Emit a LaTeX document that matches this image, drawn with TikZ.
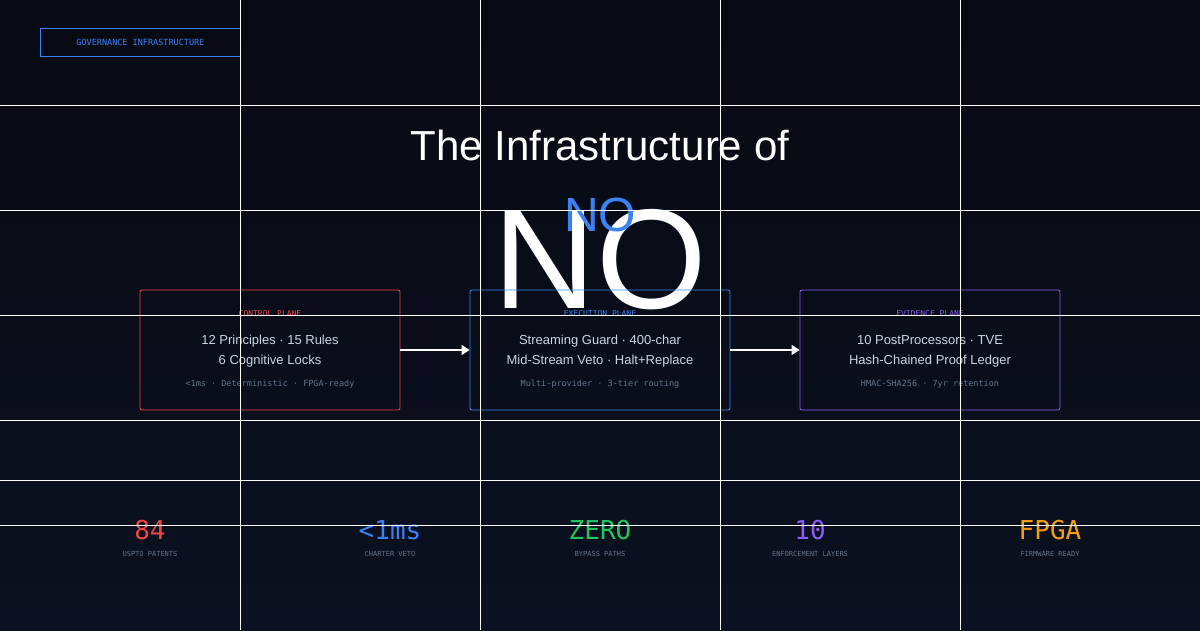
\documentclass[tikz,border=0pt]{standalone}
\usepackage{fontspec}
\setmainfont{Liberation Sans}
\setmonofont{DejaVu Sans Mono}
\usetikzlibrary{arrows.meta}
\definecolor{bgA}{HTML}{070A12}
\definecolor{bgB}{HTML}{0B1120}
\definecolor{cred}{HTML}{EF4444}
\definecolor{cblue}{HTML}{3B82F6}
\definecolor{cpurp}{HTML}{8B5CF6}
\definecolor{cgreen}{HTML}{22C55E}
\definecolor{corange}{HTML}{F59E0B}
\definecolor{txt}{HTML}{CBD5E1}
\definecolor{dim}{HTML}{64748B}
\begin{document}
\begin{tikzpicture}[x=1pt,y=-1pt,
  plane/.style={draw=#1,rounded corners=2pt,line width=0.8pt,minimum width=260pt,minimum height=120pt},
  ptitle/.style={text=#1,font=\ttfamily\fontsize{8}{10}\selectfont},
  pmain/.style={text=txt,font=\fontsize{13}{20}\selectfont,align=center},
  psub/.style={text=dim,font=\ttfamily\fontsize{8.5}{10}\selectfont},
  stat/.style={text=#1,font=\ttfamily\fontsize{26}{28}\selectfont},
  slab/.style={text=dim,font=\ttfamily\fontsize{7}{8}\selectfont},
  grid/.style={draw=white,line width=0.8pt},
  flow/.style={draw=white,line width=1.5pt,-{Triangle[length=8pt,width=10pt]}}]
\shade[top color=bgA,bottom color=bgB] (0,0) rectangle (1200,630);
\useasboundingbox (0,0) rectangle (1200,630);
% tag
\node[draw=cblue,line width=0.8pt,minimum width=200pt,minimum height=28pt,anchor=north west,text=cblue,font=\ttfamily\fontsize{8.5}{10}\selectfont] (tag) at (40,28) {GOVERNANCE INFRASTRUCTURE};
% title
\node[text=white,font=\fontsize{42}{46}\selectfont] (title) at (600,145) {The Infrastructure of};
\node[text=white,font=\fontsize{142}{146}\selectfont] (bigno) at (600,260) {NO};
\node[text=cblue,font=\fontsize{48}{50}\selectfont] (smallno) at (600,215) {NO};
% planes
\node[plane=cred] (cp) at (270,350) {};
\node[plane=cblue] (ep) at (600,350) {};
\node[plane=cpurp] (vp) at (930,350) {};
\foreach \n/\x/\c/\t/\m/\s in {cp/270/cred/CONTROL PLANE/{12 Principles · 15 Rules\\6 Cognitive Locks}/{<1ms · Deterministic · FPGA-ready},
  ep/600/cblue/EXECUTION PLANE/{Streaming Guard · 400-char\\Mid-Stream Veto · Halt+Replace}/{Multi-provider · 3-tier routing},
  vp/930/cpurp/EVIDENCE PLANE/{10 PostProcessors · TVE\\Hash-Chained Proof Ledger}/{HMAC-SHA256 · 7yr retention}}{
  \node[ptitle=\c] (\n t) at (\x,314) {\t};
  \node[pmain] (\n m) at (\x,351) {\m};
  \node[psub] (\n s) at (\x,384) {\s};
}
\draw[flow] (cp.east) -- (ep.west);
\draw[flow] (ep.east) -- (vp.west);
% stats
\foreach \i/\x/\c/\v/\l in {a/150/cred/84/USPTO PATENTS,b/390/cblue/<1ms/CHARTER VETO,c/600/cgreen/ZERO/BYPASS PATHS,d/810/cpurp/10/ENFORCEMENT LAYERS,e/1050/corange/FPGA/FIRMWARE READY}{
  \node[stat=\c] (s\i) at (\x,530) {\v};
  \node[slab] (l\i) at (\x,554) {\l};
}
% grid overlay
\foreach \x in {240,480,720,960} \draw[grid] (\x,0) -- (\x,630);
\foreach \y in {105,210,315,420,480,525} \draw[grid] (0,\y) -- (1200,\y);
\end{tikzpicture}
\end{document}
